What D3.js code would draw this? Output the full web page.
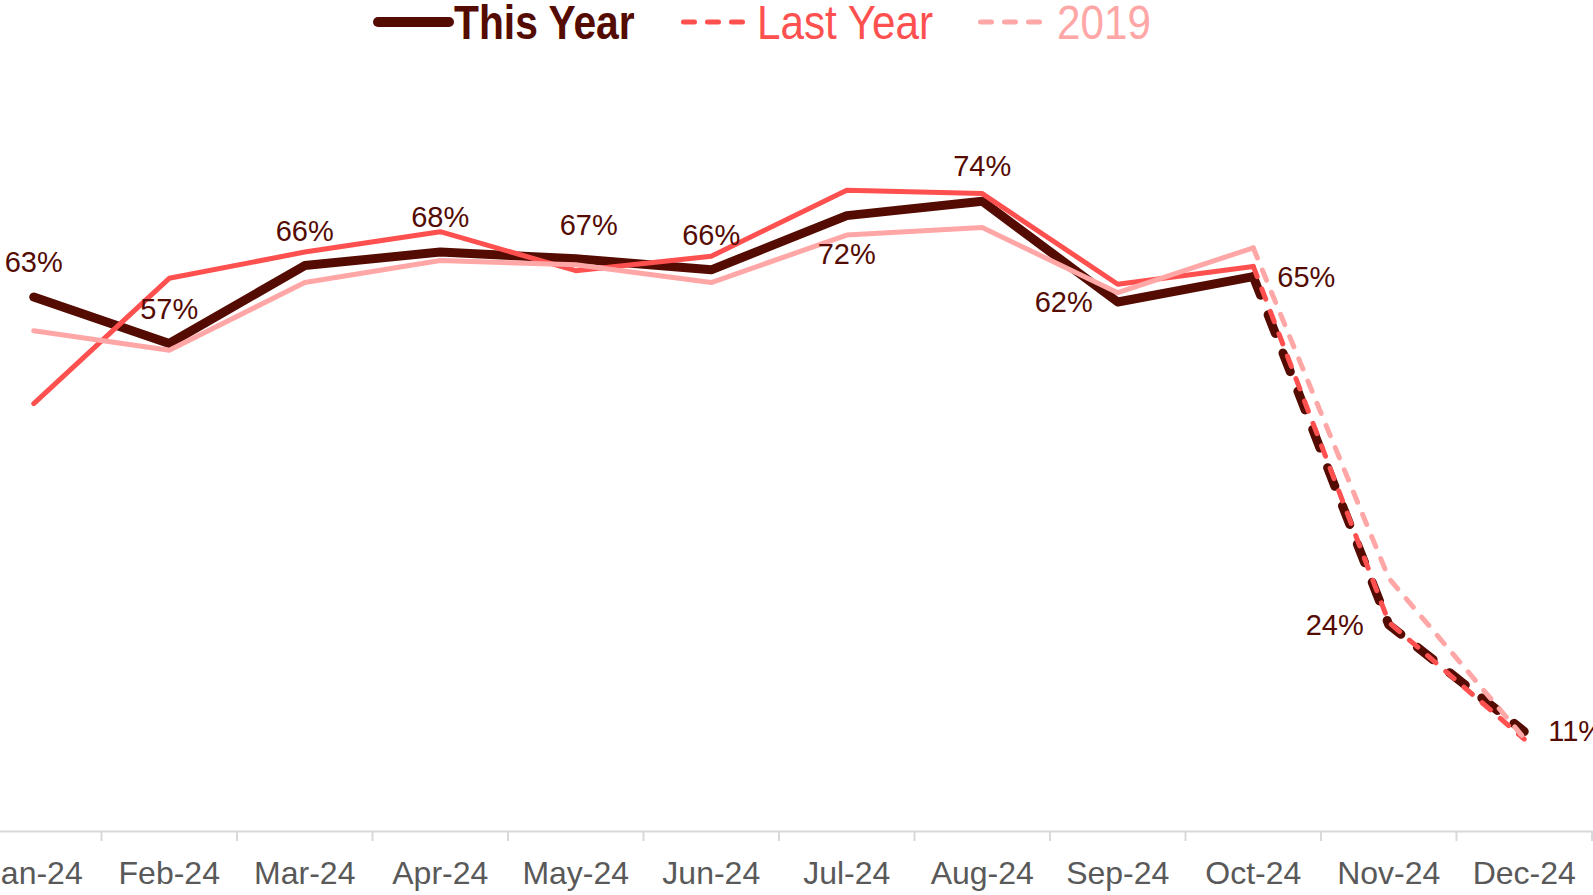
<!DOCTYPE html>
<html>
<head>
<meta charset="utf-8">
<script src="https://cdn.jsdelivr.net/npm/d3@7"></script>
<style>
  html, body { margin: 0; padding: 0; background: #fff; }
  svg { display: block; }
</style>
</head>
<body>
<div id="chart"></div>
<script>
// Monthly occupancy, This Year vs Last Year vs 2019
const months = ['Jan-24', 'Feb-24', 'Mar-24', 'Apr-24', 'May-24', 'Jun-24',
                'Jul-24', 'Aug-24', 'Sep-24', 'Oct-24', 'Nov-24', 'Dec-24'];
const thisYear = [62.7, 57.2, 66.4, 68.0, 67.2, 65.9, 72.3, 74.0, 62.1, 65.1, 24.0, 11.4];
const lastYear = [50.1, 64.9, 68.0, 70.4, 65.8, 67.5, 75.3, 74.9, 64.2, 66.3, 24.3, 10.5];
const y2019    = [58.7, 56.4, 64.4, 67.0, 66.5, 64.4, 70.0, 70.9, 63.2, 68.5, 29.5, 10.6];
// where each "This Year" label sits relative to its point
const labelSide = ['top', 'top', 'top', 'top', 'topRight', 'top',
                   'bottom', 'top', 'left', 'right', 'left', 'right'];
const lastActual = 9; // Oct-24: after this the series are dashed

const W = 1593, H = 895;
const DARK = '#540b02', RED = '#ff5050', PINK = '#ffa6a6';
const FONT = "'Liberation Sans', Arial, sans-serif";

const svg = d3.select('#chart').append('svg')
    .attr('width', W)
    .attr('height', H);

const x = d3.scaleBand().domain(months).range([-34, 1592]);
const y = d3.scaleLinear().domain([0, 100]).range([828, -19]);
const cx = m => x(m) + x.bandwidth() / 2;

// Axis
const axisY = 831;
const axisG = svg.append('g')
    .attr('transform', `translate(0,${axisY})`)
    .call(d3.axisBottom(x).tickSize(0).tickSizeOuter(0).tickPadding(30));
axisG.select('.domain').attr('stroke', '#d9d9d9').attr('stroke-width', 2);
axisG.selectAll('text')
    .attr('fill', '#595959')
    .attr('font-size', '32px')
    .attr('font-family', FONT);

// boundary ticks between months
const bounds = months.map(m => x(m)).concat([x.range()[1]]);
svg.append('g').selectAll('line')
    .data(bounds)
    .join('line')
    .attr('x1', d => d).attr('x2', d => d)
    .attr('y1', axisY).attr('y2', axisY + 10)
    .attr('stroke', '#d9d9d9')
    .attr('stroke-width', 2);

// Lines
const line = d3.line()
    .x(d => cx(d.m))
    .y(d => y(d.v));

function drawSeries(vals, color, width, dash) {
    const pts = vals.map((v, i) => ({ m: months[i], v }));
    const g = svg.append('g')
        .attr('fill', 'none')
        .attr('stroke', color)
        .attr('stroke-width', width)
        .attr('stroke-linecap', 'round')
        .attr('stroke-linejoin', 'round');
    g.append('path').attr('d', line(pts.slice(0, lastActual + 1)));
    g.append('path').attr('d', line(pts.slice(lastActual))).attr('stroke-dasharray', dash);
}

drawSeries(thisYear, DARK, 9, '20 21');
drawSeries(lastYear, RED, 5, '11 13');
drawSeries(y2019, PINK, 5, '11 13');

// Data labels for This Year
const place = {
    top:      { dx: 0,   dy: -25, anchor: 'middle' },
    topRight: { dx: 13,  dy: -24, anchor: 'middle' },
    bottom:   { dx: 0,   dy: 48,  anchor: 'middle' },
    left:     { dx: -25, dy: 10,  anchor: 'end' },
    right:    { dx: 24,  dy: 10,  anchor: 'start' }
};
svg.append('g').selectAll('text')
    .data(thisYear.map((v, i) => ({ m: months[i], v, side: labelSide[i] })))
    .join('text')
    .attr('x', d => cx(d.m) + place[d.side].dx)
    .attr('y', d => y(d.v) + place[d.side].dy)
    .attr('text-anchor', d => place[d.side].anchor)
    .attr('fill', DARK)
    .attr('font-size', '29px')
    .attr('font-family', FONT)
    .text(d => Math.round(d.v) + '%');

// Legend (condensed face faked with a horizontal squeeze)
const legend = [
    { name: 'This Year', color: DARK, width: 10, dash: null, x0: 378, x1: 449, tx: 454, bold: true },
    { name: 'Last Year', color: RED, width: 5, dash: '11 13', x0: 683.5, x1: 742.5, tx: 757, bold: false },
    { name: '2019', color: PINK, width: 5, dash: '11 13', x0: 980.5, x1: 1039.5, tx: 1057, bold: false }
];
const lg = svg.append('g');
legend.forEach(d => {
    lg.append('line')
        .attr('x1', d.x0).attr('x2', d.x1)
        .attr('y1', 22).attr('y2', 22)
        .attr('stroke', d.color)
        .attr('stroke-width', d.width)
        .attr('stroke-linecap', 'round')
        .attr('stroke-dasharray', d.dash);
    lg.append('text')
        .attr('transform', `translate(${d.tx},39) scale(${d.bold ? 0.85 : 0.88},1)`)
        .attr('fill', d.color)
        .attr('font-size', '48px')
        .attr('font-weight', d.bold ? 'bold' : 'normal')
        .attr('font-family', FONT)
        .text(d.name);
});
</script>
</body>
</html>
